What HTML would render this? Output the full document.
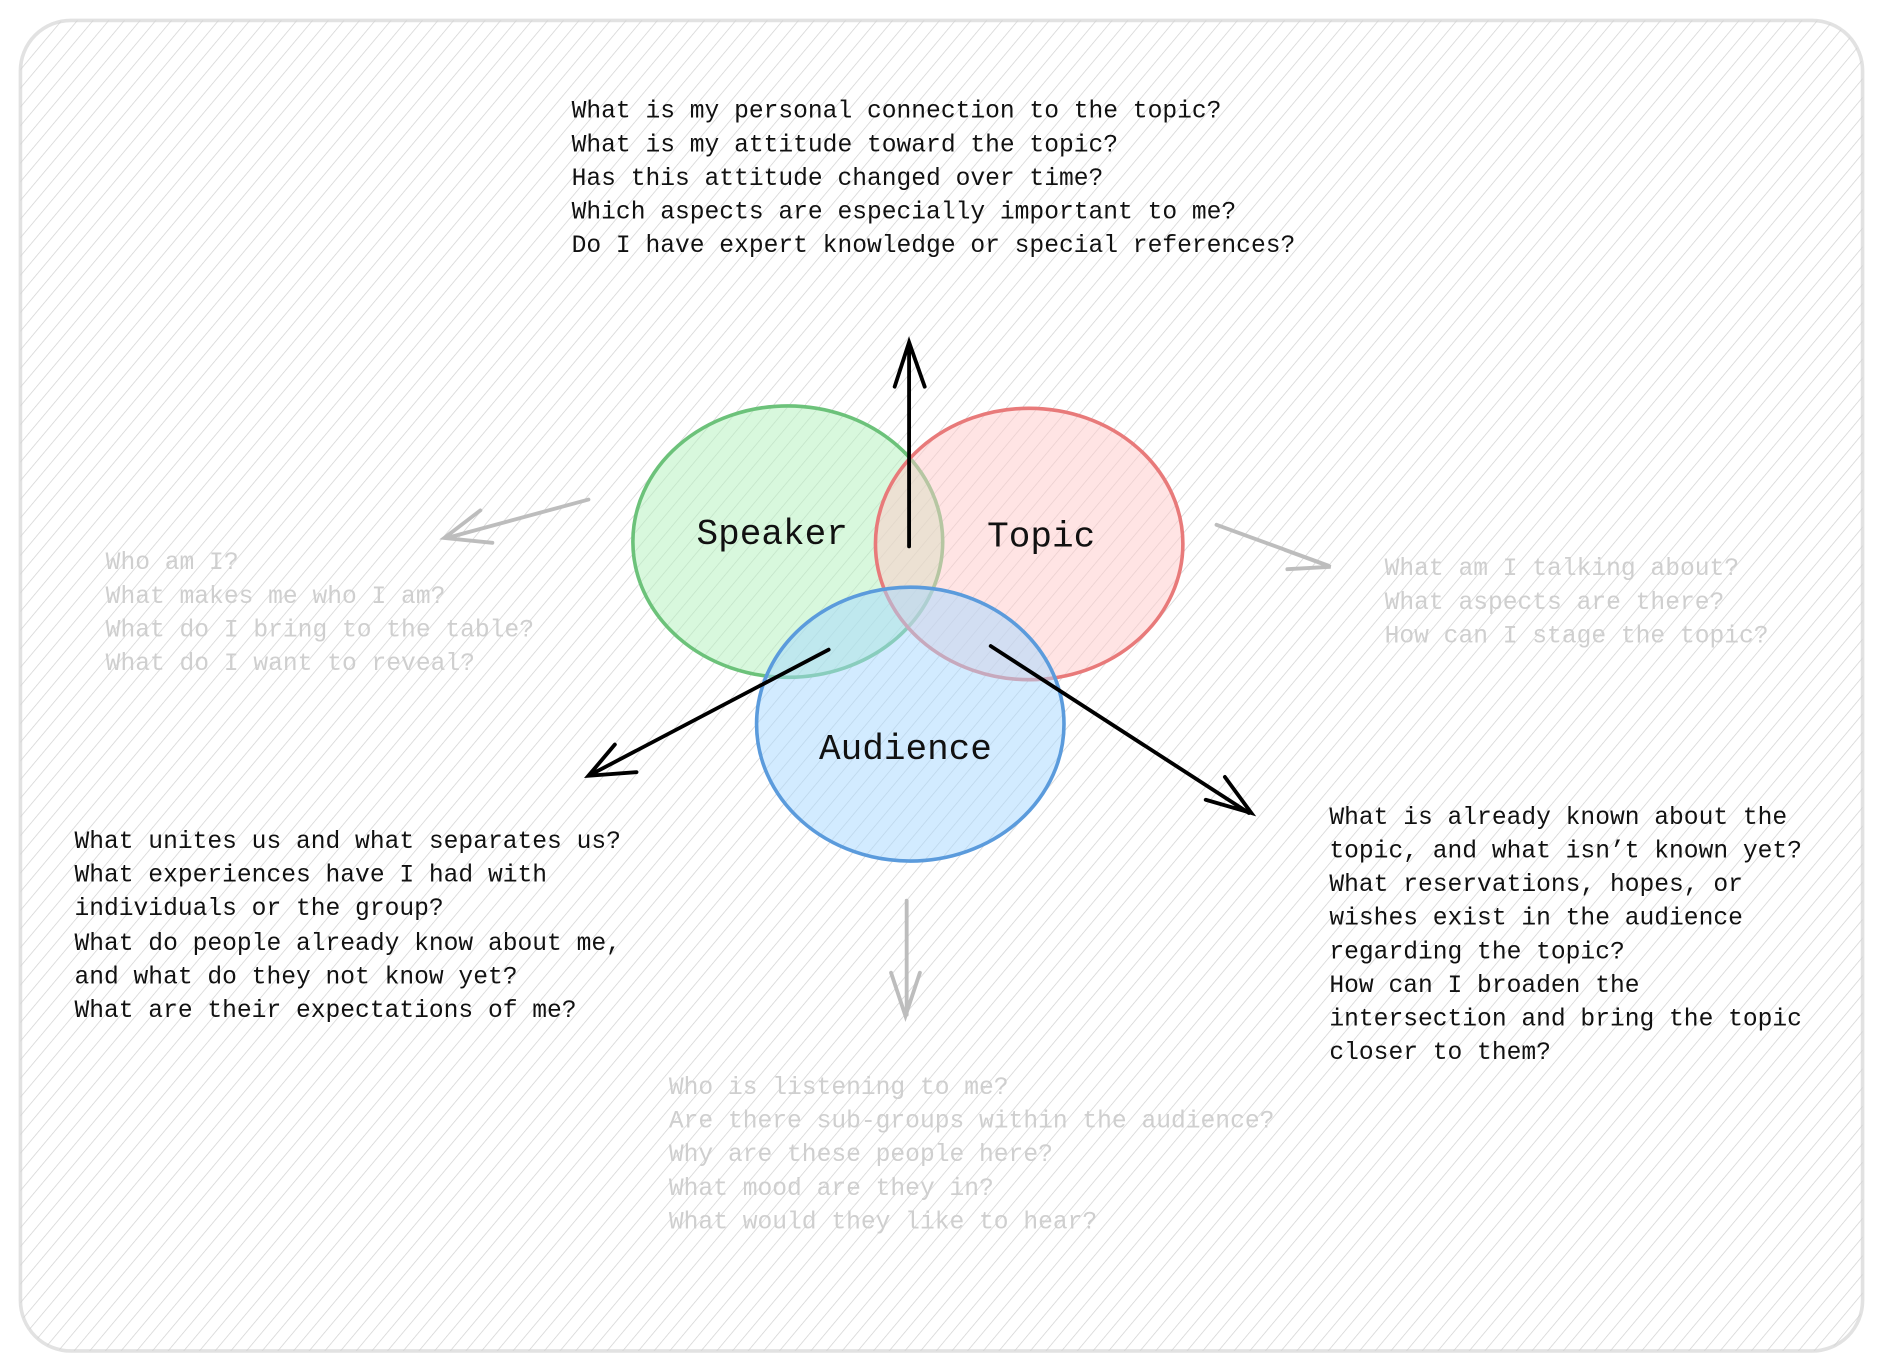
<!DOCTYPE html>
<html><head><meta charset="utf-8"><style>
html,body{margin:0;padding:0;background:#fff;width:1883px;height:1372px;overflow:hidden}
text{font-family:"Liberation Mono",monospace}
</style></head><body>
<svg width="1883" height="1372" viewBox="0 0 1568 1142.5" xmlns="http://www.w3.org/2000/svg">
<defs>
<pattern id="h" width="10" height="10" patternUnits="userSpaceOnUse" patternTransform="rotate(40)">
<line x1="0" y1="0" x2="0" y2="10" stroke="#d2d2d2" stroke-width="1.2"/>
</pattern>
</defs>
<rect x="17" y="17" width="1534" height="1108" rx="42" fill="#fff" stroke="#e2e2e2" stroke-width="3"/>
<rect x="17" y="17" width="1534" height="1108" rx="42" fill="url(#h)"/>

<ellipse cx="656" cy="451" rx="129" ry="113" fill="#b2f2bb" fill-opacity="0.5" stroke="#6cc27a" stroke-width="3"/>
<ellipse cx="857" cy="453" rx="128" ry="113" fill="#ffc9c9" fill-opacity="0.5" stroke="#e87a7a" stroke-width="3"/>
<ellipse cx="758" cy="603" rx="128" ry="114" fill="#a5d8ff" fill-opacity="0.5" stroke="#5b9bdc" stroke-width="3"/>

<g stroke="#000" stroke-width="3.2" fill="none" stroke-linecap="round">
<path d="M757 455 L757 287 M745 322 L757 285 L770 322"/>
<path d="M690 541 L492 645 M512 620 L490 646 L530 643"/>
<path d="M825 538 L1040 677 M1020 647 L1042 677 L1004 666"/>
</g>
<g stroke="#bdbdbd" stroke-width="3.2" fill="none" stroke-linecap="round">
<path d="M490 416 L372 448 M400 425 L370 448 L410 452"/>
<path d="M1013 437 L1106 471 M1070 458 L1108 472 L1072 474"/>
<path d="M755 750 L755 845 M742 810 L754 846 L766 810"/>
</g>

<g font-size="30" fill="#111">
<text x="580" y="453">Speaker</text>
<text x="822" y="455">Topic</text>
<text x="682" y="632">Audience</text>
</g>

<g font-size="20.5" fill="#111">
<text x="476" y="98">What is my personal connection to the topic?</text>
<text x="476" y="126">What is my attitude toward the topic?</text>
<text x="476" y="154">Has this attitude changed over time?</text>
<text x="476" y="182">Which aspects are especially important to me?</text>
<text x="476" y="210">Do I have expert knowledge or special references?</text>

<text x="62" y="706">What unites us and what separates us?</text>
<text x="62" y="734">What experiences have I had with</text>
<text x="62" y="762">individuals or the group?</text>
<text x="62" y="791">What do people already know about me,</text>
<text x="62" y="819">and what do they not know yet?</text>
<text x="62" y="847">What are their expectations of me?</text>

<text x="1107" y="686">What is already known about the</text>
<text x="1107" y="714">topic, and what isn’t known yet?</text>
<text x="1107" y="742">What reservations, hopes, or</text>
<text x="1107" y="770">wishes exist in the audience</text>
<text x="1107" y="798">regarding the topic?</text>
<text x="1107" y="826">How can I broaden the</text>
<text x="1107" y="854">intersection and bring the topic</text>
<text x="1107" y="882">closer to them?</text>
</g>

<g font-size="20.5" fill="#cfcfcf">
<text x="88" y="474">Who am I?</text>
<text x="88" y="502">What makes me who I am?</text>
<text x="88" y="530">What do I bring to the table?</text>
<text x="88" y="558">What do I want to reveal?</text>

<text x="1153" y="479">What am I talking about?</text>
<text x="1153" y="507">What aspects are there?</text>
<text x="1153" y="535">How can I stage the topic?</text>

<text x="557" y="911">Who is listening to me?</text>
<text x="557" y="939">Are there sub-groups within the audience?</text>
<text x="557" y="967">Why are these people here?</text>
<text x="557" y="995">What mood are they in?</text>
<text x="557" y="1023">What would they like to hear?</text>
</g>
</svg>
</body></html>
